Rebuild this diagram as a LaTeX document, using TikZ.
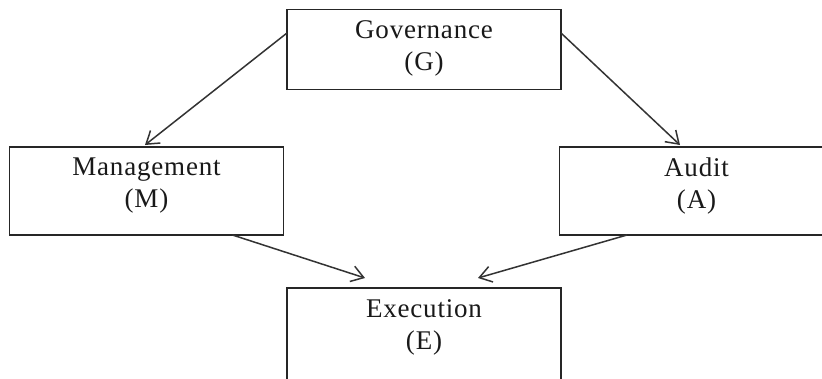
\documentclass[tikz,border=0pt]{standalone}
\usepackage{fontspec}
\setmainfont{Liberation Serif}[LetterSpace=3]
\usetikzlibrary{arrows.meta}
\tikzset{
  box/.style={draw=black!85, line width=1.5bp, minimum width=274bp, inner sep=0pt, outer sep=0pt},
  lbl/.style={align=center, inner sep=0pt, text=black!90, font=\fontsize{27bp}{32bp}\selectfont},
  arr/.style={draw=black!80, line width=1.5bp, -{Straight Barb[length=12bp,width=16bp,line width=1.5bp]}}
}
\begin{document}
\begin{tikzpicture}[x=1bp,y=-1bp]
\useasboundingbox[fill=white] (0,0) rectangle (822,378);
\node[box, minimum height=80bp] (g) at (424,49.5) {};
\node[box, minimum height=88bp] (m) at (146.5,191) {};
\node[box, minimum height=88bp] (a) at (696.5,191) {};
\node[box, minimum height=100bp] (e) at (424,338) {};
\node[lbl] (gt) at ([yshift=-39bp]g.north) {Governance\\(G)};
\node[lbl] (mt) at ([yshift=-39bp]m.north) {Management\\(M)};
\node[lbl] (at) at ([yshift=-39bp]a.north) {Audit\\(A)};
\node[lbl] (et) at ([yshift=-39bp]e.north) {Execution\\(E)};
\coordinate (g1) at ([yshift=16.5bp]g.west);
\coordinate (g2) at ([yshift=16.5bp]g.east);
\coordinate (m1) at ([xshift=-1.5bp,yshift=2bp]m.north);
\coordinate (a1) at ([xshift=-16.5bp,yshift=2bp]a.north);
\coordinate (m2) at ([xshift=86bp]m.south);
\coordinate (a2) at ([xshift=-69.5bp]a.south);
\coordinate (e1) at ([xshift=-59bp,yshift=10bp]e.north);
\coordinate (e2) at ([xshift=54bp,yshift=10bp]e.north);
\draw[arr] (g1) -- (m1);
\draw[arr] (g2) -- (a1);
\draw[arr] (m2) -- (e1);
\draw[arr] (a2) -- (e2);
\end{tikzpicture}
\end{document}
